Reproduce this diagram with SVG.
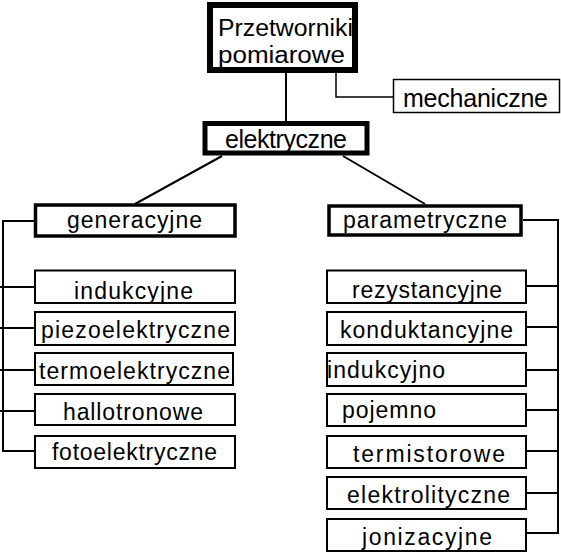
<svg xmlns="http://www.w3.org/2000/svg" width="561" height="556" viewBox="0 0 561 556">
<style>
.b{fill:#fff;stroke:#000}
.t1{stroke-width:6}.t2{stroke-width:5}.t3{stroke-width:3.5}.th{stroke-width:2}
text{font-family:"Liberation Sans",Arial,sans-serif;font-size:23px;fill:#000}
.big{font-size:25px}
.top{font-size:23px}
.c{fill:none;stroke:#000;stroke-width:2}
</style>
<rect width="561" height="556" fill="#fff"/>
<g id="connectors">
<path class="c" d="M286,73V121"/>
<path class="c" style="stroke-width:1.5" d="M336,73V97H393"/>
<path class="c" d="M222,156L135,204M343,156L425,204"/>
<path class="c" d="M35,221H3V451H35M0,287H35M0,328H35M0,370H35M0,411H35"/>
<path class="c" d="M523,220H558V533H525M525,286H558M525,327H558M525,370H558M525,410H558M525,451H558M525,493H558"/>
</g>
<g id="n_przetworniki"><rect class="b t1" x="210" y="5" width="145" height="65"/>
<text class="top" x="218" y="36" textLength="135" lengthAdjust="spacingAndGlyphs">Przetworniki</text>
<text class="top" x="218" y="63" textLength="127" lengthAdjust="spacingAndGlyphs">pomiarowe</text></g>
<g id="n_mechaniczne"><rect class="b" style="stroke-width:1.5" x="393.5" y="79.5" width="166" height="33"/>
<text class="big" x="403" y="107" textLength="145" lengthAdjust="spacing">mechaniczne</text></g>
<g id="n_elektryczne"><rect class="b t2" x="205" y="123.5" width="162" height="29.5"/>
<text class="big" x="225" y="148" textLength="122" lengthAdjust="spacing">elektryczne</text></g>
<g id="n_generacyjne"><rect class="b t3" x="35.5" y="205" width="199.5" height="31"/>
<text x="67" y="228" textLength="135" lengthAdjust="spacing">generacyjne</text></g>
<g id="n_parametryczne"><rect class="b t3" x="329" y="206" width="192" height="29"/>
<text x="343" y="228" textLength="164" lengthAdjust="spacing">parametryczne</text></g>
<g id="n_indukcyjne"><rect class="b th" x="35" y="270.5" width="200" height="32.5"/>
<text x="74" y="299" textLength="119" lengthAdjust="spacing">indukcyjne</text></g>
<g id="n_piezo"><rect class="b th" x="35" y="312" width="200" height="33"/>
<text x="41" y="338" textLength="189" lengthAdjust="spacing">piezoelektryczne</text></g>
<g id="n_termo"><rect class="b th" x="35" y="353" width="198" height="32"/>
<text x="39" y="379" textLength="191" lengthAdjust="spacing">termoelektryczne</text></g>
<g id="n_hallo"><rect class="b th" x="35" y="394" width="200" height="31"/>
<text x="63" y="420" textLength="140" lengthAdjust="spacing">hallotronowe</text></g>
<g id="n_foto"><rect class="b th" x="35" y="436" width="200" height="32"/>
<text x="52" y="460" textLength="165" lengthAdjust="spacing">fotoelektryczne</text></g>
<g id="n_rezyst"><rect class="b th" x="327" y="270.5" width="199" height="32.5"/>
<text x="352" y="298" textLength="150" lengthAdjust="spacing">rezystancyjne</text></g>
<g id="n_kondukt"><rect class="b th" x="327" y="312" width="199" height="33"/>
<text x="340" y="338" textLength="173" lengthAdjust="spacing">konduktancyjne</text></g>
<g id="n_indukcyjno"><rect class="b th" x="327" y="353" width="199" height="33"/>
<text x="327" y="378" textLength="118" lengthAdjust="spacing">indukcyjno</text></g>
<g id="n_pojemno"><rect class="b th" x="327" y="394" width="199" height="32"/>
<text x="342" y="418" textLength="94" lengthAdjust="spacing">pojemno</text></g>
<g id="n_termistor"><rect class="b th" x="327" y="436" width="199" height="32"/>
<text x="353" y="462" textLength="152" lengthAdjust="spacing">termistorowe</text></g>
<g id="n_elektrolit"><rect class="b th" x="327" y="477" width="199" height="32"/>
<text x="347" y="503" textLength="163" lengthAdjust="spacing">elektrolityczne</text></g>
<g id="n_jonizac"><rect class="b th" x="327" y="519" width="199" height="32"/>
<text x="362" y="545" textLength="130" lengthAdjust="spacing">jonizacyjne</text></g>
</svg>
